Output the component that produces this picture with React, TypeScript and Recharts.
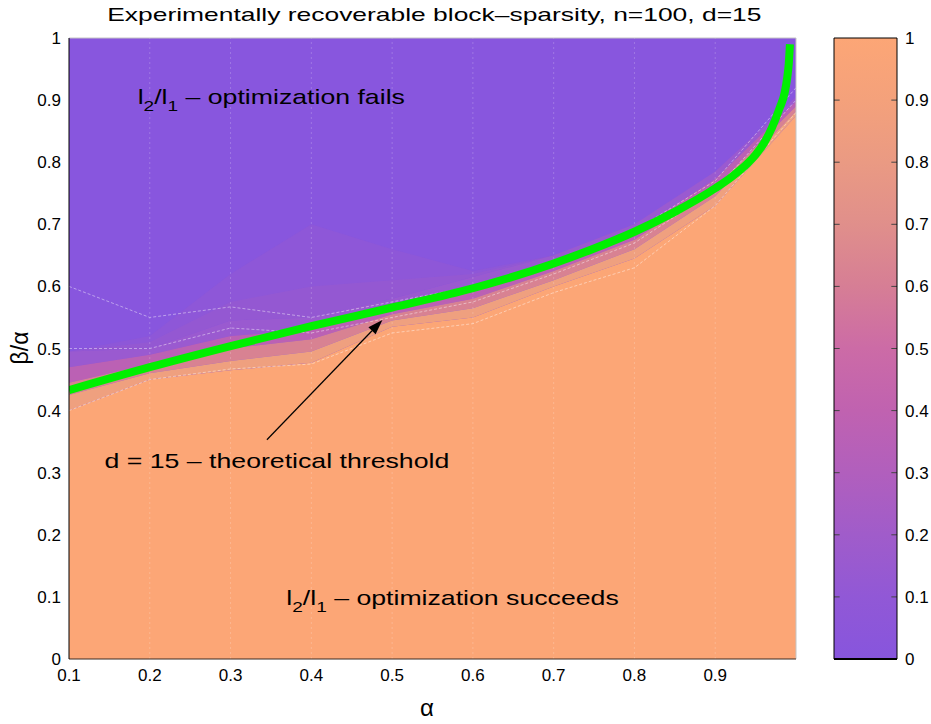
import React from 'react'
import {
  ComposedChart, Area, Line, XAxis, YAxis,
  CartesianGrid, ReferenceLine, ReferenceDot,
} from 'recharts'

const font = '"Liberation Sans", Arial, Helvetica, sans-serif'

// grid of alpha values where the experiment was run
const alphaGrid = [0.1, 0.2, 0.3, 0.4, 0.5, 0.6, 0.7, 0.8, 0.9, 1.0]
// beta/alpha where the success fraction crosses a level
const level95 = [0.40, 0.45, 0.465, 0.477, 0.535, 0.55, 0.60, 0.645, 0.73, 0.875]
const level75 = [0.425, 0.46, 0.48, 0.495, 0.545, 0.565, 0.61, 0.66, 0.745, 0.882]
const level50 = [0.445, 0.475, 0.50, 0.515, 0.555, 0.58, 0.625, 0.675, 0.76, 0.89]
const level25 = [0.47, 0.49, 0.52, 0.53, 0.568, 0.597, 0.638, 0.688, 0.773, 0.898]
const level05 = [0.495, 0.50, 0.545, 0.55, 0.58, 0.615, 0.65, 0.70, 0.785, 0.905]
// faint pink wash above the transition around alpha 0.3-0.5
const levelHazeLow = [0.495, 0.51, 0.575, 0.60, 0.61, 0.62, 0.65, 0.70, 0.785, 0.905]
const levelHazeHigh = [0.495, 0.52, 0.62, 0.70, 0.66, 0.625, 0.65, 0.70, 0.785, 0.905]

// white mesh lines of the interpolated surface
const meshA = [0.6, 0.55, 0.567, 0.55, 0.575, 0.6, 0.64, 0.69, 0.77, 0.92]
const meshB = [0.5, 0.5, 0.533, 0.525, 0.55, 0.575, 0.62, 0.67, 0.755, 0.9]
const meshC = [0.4, 0.45, 0.467, 0.475, 0.525, 0.54, 0.59, 0.63, 0.73, 0.88]

// theoretical threshold, d = 15
const thresholdAlpha = [0.1, 0.2, 0.3, 0.4, 0.5, 0.6, 0.7, 0.75, 0.8, 0.85, 0.9, 0.92, 0.94, 0.95, 0.96, 0.97, 0.98, 0.986, 0.989, 0.991, 0.9925]
const thresholdRatio = [0.433, 0.47, 0.504, 0.536, 0.566, 0.597, 0.637, 0.661, 0.688, 0.72, 0.758, 0.776, 0.798, 0.812, 0.83, 0.855, 0.888, 0.912, 0.935, 0.958, 0.99]

const xTicks = [0.1, 0.2, 0.3, 0.4, 0.5, 0.6, 0.7, 0.8, 0.9]
const yTicks = [0, 0.1, 0.2, 0.3, 0.4, 0.5, 0.6, 0.7, 0.8, 0.9, 1]
const cbInnerTicks = [0.1, 0.2, 0.3, 0.4, 0.5, 0.6, 0.7, 0.8, 0.9]

// colormap (success fraction -> colour)
const cmapPos = [0, 0.1, 0.2, 0.3, 0.4, 0.5, 0.6, 0.7, 0.8, 0.9, 1]
const cmapColors = ['#8755dd', '#9158d6', '#a05cca', '#b15fbd', '#c062b0', '#cc6ba6',
  '#d67e95', '#e08f8b', '#ea9a83', '#f4a17b', '#fca676']

const purple = '#8856de'
const orange = '#fca676'

const rows = alphaGrid.map((a, i) => ({
  alpha: a,
  band0: [0, level95[i]],
  band1: [level95[i], level75[i]],
  band2: [level75[i], level50[i]],
  band3: [level50[i], level25[i]],
  band4: [level25[i], level05[i]],
  hazeHigh: [level05[i], levelHazeHigh[i]],
  hazeLow: [level05[i], levelHazeLow[i]],
  meshA: meshA[i],
  meshB: meshB[i],
  meshC: meshC[i],
}))

const thresholdRows = thresholdAlpha.map((a, i) => ({ alpha: a, ratio: thresholdRatio[i] }))

const bands = [
  { key: 'hazeHigh', color: '#b05fbd', op: 0.16 },
  { key: 'hazeLow', color: '#b05fbd', op: 0.2 },
  { key: 'band4', color: '#9a5ad0', op: 1 },
  { key: 'band3', color: '#bb61b4', op: 1 },
  { key: 'band2', color: '#d88292', op: 1 },
  { key: 'band1', color: '#efa07f', op: 1 },
  { key: 'band0', color: orange, op: 1 },
]

const tickStyle = { fill: '#000', fontSize: 17, fontFamily: font }

function Arrow(p: any) {
  const { x1, y1, x2, y2 } = p
  const ang = Math.atan2(y2 - y1, x2 - x1)
  const len = 15
  const half = 5
  const bx = x2 - len * Math.cos(ang)
  const by = y2 - len * Math.sin(ang)
  const pts = [
    [x2, y2],
    [bx + half * Math.sin(ang), by - half * Math.cos(ang)],
    [bx - half * Math.sin(ang), by + half * Math.cos(ang)],
  ].map((q) => q.join(',')).join(' ')
  return (
    <g>
      <line x1={x1} y1={y1} x2={bx} y2={by} stroke="#000" strokeWidth={1.2} />
      <polygon points={pts} fill="#000" />
    </g>
  )
}

function NormNote({ cx, cy, text }: any) {
  return (
    <g transform={`translate(${cx},${cy}) scale(1.27,1)`}>
      <text x={0} y={0} fontFamily={font} fontSize={21} fill="#000" style={{ whiteSpace: 'pre' }}>
        <tspan>l</tspan>
        <tspan fontSize={15} dy={7}>2</tspan>
        <tspan dy={-7}>/l</tspan>
        <tspan fontSize={15} dy={7}>1</tspan>
        <tspan dy={-7}>{' – ' + text}</tspan>
      </text>
    </g>
  )
}

function PlainNote({ cx, cy, text }: any) {
  return (
    <g transform={`translate(${cx},${cy}) scale(1.27,1)`}>
      <text x={0} y={0} fontFamily={font} fontSize={21} fill="#000">{text}</text>
    </g>
  )
}

export default function App() {
  return (
    <div style={{ position: 'absolute', left: 0, top: 0, width: 931, height: 724, background: '#fff', fontFamily: font }}>
      <div style={{ position: 'absolute', left: 0, top: 5, width: 868, textAlign: 'center', fontSize: 19, lineHeight: '19px' }}>
        <span style={{ display: 'inline-block', transform: 'scaleX(1.39)' }}>
          Experimentally recoverable block–sparsity, n=100, d=15
        </span>
      </div>

      <div style={{ position: 'absolute', left: 0, top: 0 }}>
        <ComposedChart width={931} height={724} data={rows} margin={{ top: 38, right: 135, bottom: 35, left: 9 }}>
          <CartesianGrid horizontal={false} vertical={false} fill={purple} fillOpacity={1} />
          <XAxis dataKey="alpha" type="number" domain={[0.1, 1]} ticks={xTicks} tickSize={0} tickMargin={10}
            axisLine={{ stroke: '#3b2a22' }} tick={tickStyle} allowDataOverflow />
          <YAxis type="number" domain={[0, 1]} ticks={yTicks} width={60} tickSize={0} tickMargin={8}
            axisLine={{ stroke: '#000' }} tick={tickStyle} />
          {bands.map((b) => (
            <Area key={b.key} dataKey={b.key} type="linear" fill={b.color} fillOpacity={b.op}
              stroke="none" isAnimationActive={false} activeDot={false} />
          ))}
          {xTicks.slice(1).map((t) => (
            <ReferenceLine key={t} x={t} stroke="rgba(255,255,255,0.2)" strokeDasharray="2 3" />
          ))}
          {['meshA', 'meshB', 'meshC'].map((k) => (
            <Line key={k} dataKey={k} type="linear" stroke="rgba(255,255,255,0.55)" strokeWidth={0.8}
              strokeDasharray="3 2" dot={false} activeDot={false} isAnimationActive={false} />
          ))}
          <Line data={thresholdRows} dataKey="ratio" type="monotone" stroke="#00f000" strokeWidth={8}
            dot={false} activeDot={false} isAnimationActive={false} />
          <ReferenceLine y={1} stroke="#c4c4c4" />
          <ReferenceLine x={1} stroke="#c4c4c4" />
          <ReferenceLine segment={[{ x: 0.345, y: 0.353 }, { x: 0.488, y: 0.546 }]} shape={Arrow} />
          <ReferenceDot x={0.185} y={0.894} r={0}
            shape={(p: any) => <NormNote cx={p.cx} cy={p.cy} text="optimization fails" />} />
          <ReferenceDot x={0.144} y={0.308} r={0}
            shape={(p: any) => <PlainNote cx={p.cx} cy={p.cy} text="d = 15 – theoretical threshold" />} />
          <ReferenceDot x={0.369} y={0.087} r={0}
            shape={(p: any) => <NormNote cx={p.cx} cy={p.cy} text="optimization succeeds" />} />
        </ComposedChart>
      </div>

      <div style={{ position: 'absolute', left: 800, top: 0 }}>
        <ComposedChart width={131} height={724} data={[{ x: 0, v: 0 }, { x: 1, v: 1 }]}
          margin={{ top: 38, right: 0, bottom: 65, left: 34 }}>
          <defs>
            <linearGradient id="cbGrad" x1="0" y1="1" x2="0" y2="0">
              {cmapPos.map((p, i) => <stop key={p} offset={p} stopColor={cmapColors[i]} />)}
            </linearGradient>
          </defs>
          <CartesianGrid horizontal={false} vertical={false} fill="url(#cbGrad)" fillOpacity={1} />
          <XAxis dataKey="x" type="number" domain={[0, 1]} hide />
          <YAxis orientation="right" type="number" domain={[0, 1]} ticks={yTicks} width={34}
            tickSize={0} tickMargin={8} axisLine={false} tick={tickStyle} />
          <Line dataKey="v" stroke="none" dot={false} activeDot={false} isAnimationActive={false} />
          {cbInnerTicks.map((t) => (
            <ReferenceLine key={'l' + t} segment={[{ x: 0, y: t }, { x: 0.09, y: t }]} stroke="#444" />
          ))}
          {cbInnerTicks.map((t) => (
            <ReferenceLine key={'r' + t} segment={[{ x: 0.91, y: t }, { x: 1, y: t }]} stroke="#444" />
          ))}
          <ReferenceLine x={0} stroke="#000" />
          <ReferenceLine x={1} stroke="#000" />
          <ReferenceLine y={0} stroke="#000" strokeWidth={2} />
          <ReferenceLine y={1} stroke="#000" />
        </ComposedChart>
      </div>

      <div style={{ position: 'absolute', left: 0, top: 336, width: 40, height: 24, lineHeight: '24px', textAlign: 'center', fontSize: 23, transform: 'rotate(-90deg)' }}>
        β/α
      </div>
      <div style={{ position: 'absolute', left: 407, top: 696, width: 40, textAlign: 'center', fontSize: 24, lineHeight: '24px' }}>
        α
      </div>
    </div>
  )
}
